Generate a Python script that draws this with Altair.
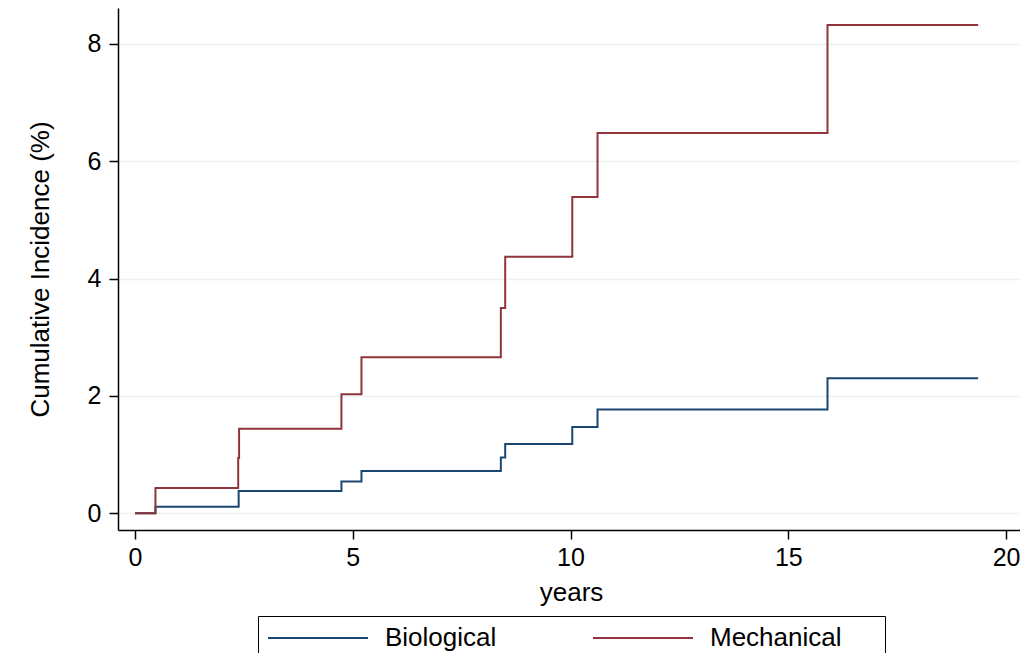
import altair as alt
import pandas as pd

# ---- data ----
groups = ["Biological", "Mechanical"]
group_colors = ["#1a476f", "#90353b"]

bio_years = [0, 0.47, 2.38, 4.74, 5.20, 8.40, 8.50, 10.04, 10.62, 15.90, 19.36]
bio_ci = [0, 0.11, 0.38, 0.54, 0.72, 0.95, 1.18, 1.47, 1.77, 2.30, 2.30]

mech_years = [0, 0.47, 2.37, 2.39, 4.74, 5.20, 8.40, 8.50, 10.04, 10.62, 15.90, 19.36]
mech_ci = [0, 0.43, 0.94, 1.44, 2.03, 2.66, 3.50, 4.37, 5.39, 6.48, 8.32, 8.32]

x_ticks = [0, 5, 10, 15, 20]
y_ticks = [0, 2, 4, 6, 8]

rows = []
for i, (t, v) in enumerate(zip(bio_years, bio_ci)):
    rows.append({"group": groups[0], "years": t, "ci": v, "order": i})
for i, (t, v) in enumerate(zip(mech_years, mech_ci)):
    rows.append({"group": groups[1], "years": t, "ci": v, "order": i})
df = pd.DataFrame(rows)

FONT = "Liberation Sans"

chart = (
    alt.Chart(df)
    .mark_line(interpolate="step-after", strokeWidth=2)
    .encode(
        x=alt.X(
            "years:Q",
            scale=alt.Scale(domain=[-0.39, 20.32], nice=False, zero=False),
            axis=alt.Axis(
                values=x_ticks,
                title="years",
                grid=False,
                domainColor="black",
                domainWidth=1.5,
                tickColor="black",
                tickWidth=1.5,
                tickSize=9,
                labelFont=FONT,
                labelFontSize=25,
                labelColor="black",
                labelPadding=6,
                labelFlush=False,
                labelOverlap=False,
                titleFont=FONT,
                titleFontSize=26,
                titleFontWeight="normal",
                titleColor="black",
                titleBaseline="alphabetic",
                titleX=453,
                titleY=70,
            ),
        ),
        y=alt.Y(
            "ci:Q",
            scale=alt.Scale(domain=[-0.285, 8.61], nice=False, zero=False),
            axis=alt.Axis(
                values=y_ticks,
                title="Cumulative Incidence (%)",
                grid=True,
                gridColor="#eaf2f3",
                gridWidth=1.5,
                domainColor="black",
                domainWidth=1.5,
                tickColor="black",
                tickWidth=1.5,
                tickSize=9,
                labelFont=FONT,
                labelFontSize=25,
                labelColor="black",
                labelPadding=8,
                labelFlush=False,
                labelOverlap=False,
                titleFont=FONT,
                titleFontSize=26,
                titleFontWeight="normal",
                titleColor="black",
                titleAngle=270,
                titleAlign="center",
                titleBaseline="alphabetic",
                titleX=-70,
                titleY=261,
            ),
        ),
        color=alt.Color(
            "group:N",
            scale=alt.Scale(domain=groups, range=group_colors),
            legend=alt.Legend(
                title="\u00a0",
                titleOrient="right",
                titlePadding=34,
                titleFontSize=4,
                orient="none",
                legendX=140,
                legendY=608,
                direction="horizontal",
                columns=2,
                symbolType="stroke",
                symbolSize=10000,
                symbolStrokeWidth=2,
                clipHeight=26,
                labelFont=FONT,
                labelFontSize=26,
                labelColor="black",
                labelOffset=16,
                labelLimit=400,
                columnPadding=95,
                padding=9,
                strokeColor="black",
                fillColor="white",
                cornerRadius=0,
            ),
        ),
        order="order:Q",
    )
    .properties(
        width=902,
        height=522,
        autosize=alt.AutoSizeParams(type="none"),
        padding={"left": 110, "top": 0, "right": 0, "bottom": 123},
        background="white",
    )
    .configure_view(stroke=None)
)

chart.save("out.html", embed_options={"renderer": "svg", "actions": False})
